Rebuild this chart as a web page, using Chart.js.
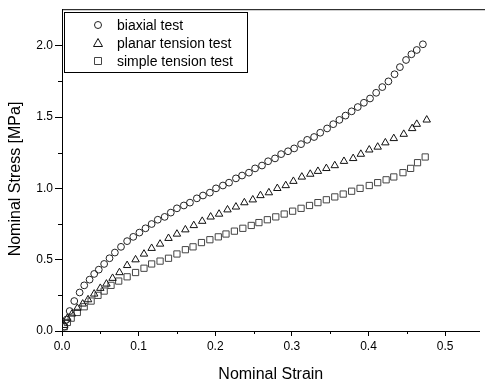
<!DOCTYPE html>
<html>
<head>
<meta charset="utf-8">
<script src="https://cdn.jsdelivr.net/npm/chart.js@4.4.1/dist/chart.umd.min.js"></script>
<style>
  body { margin: 0; background: #fff; }
  canvas { display: block; }
</style>
</head>
<body>
<canvas id="stressChart" width="485" height="384"></canvas>
<script>
// data
var biaxialStrain = [0.003,0.006,0.010,0.016,0.023,0.029,0.036,0.042,0.048,0.055,0.062,0.069,0.077,0.085,0.093,0.101,0.109,0.117,0.125,0.134,0.142,0.150,0.159,0.167,0.176,0.184,0.193,0.201,0.210,0.218,0.227,0.235,0.244,0.252,0.261,0.269,0.278,0.286,0.295,0.303,0.312,0.320,0.329,0.337,0.346,0.354,0.362,0.370,0.378,0.386,0.394,0.402,0.410,0.418,0.426,0.434,0.441,0.449,0.456,0.463,0.471];
var biaxialStress = [0.03,0.08,0.14,0.21,0.27,0.32,0.36,0.40,0.43,0.47,0.51,0.55,0.59,0.63,0.66,0.69,0.72,0.75,0.78,0.80,0.83,0.86,0.88,0.90,0.93,0.95,0.97,1.00,1.02,1.04,1.07,1.09,1.11,1.14,1.16,1.19,1.21,1.24,1.26,1.28,1.31,1.34,1.36,1.39,1.42,1.45,1.48,1.51,1.54,1.57,1.60,1.63,1.67,1.71,1.75,1.80,1.85,1.90,1.94,1.97,2.01];

var planarStrain = [0.003,0.007,0.013,0.020,0.027,0.034,0.042,0.050,0.058,0.066,0.075,0.085,0.096,0.107,0.117,0.128,0.139,0.150,0.161,0.172,0.183,0.194,0.205,0.216,0.227,0.238,0.249,0.259,0.270,0.281,0.292,0.302,0.313,0.324,0.334,0.345,0.356,0.368,0.380,0.390,0.401,0.412,0.422,0.433,0.446,0.457,0.463,0.476];
var planarStress = [0.04,0.09,0.12,0.16,0.19,0.22,0.26,0.30,0.33,0.37,0.41,0.46,0.50,0.54,0.58,0.61,0.65,0.68,0.71,0.74,0.77,0.80,0.82,0.85,0.87,0.90,0.92,0.95,0.97,1.00,1.02,1.05,1.08,1.10,1.12,1.14,1.16,1.19,1.21,1.24,1.27,1.29,1.32,1.35,1.38,1.42,1.45,1.48];

var simpleStrain = [0.003,0.007,0.012,0.020,0.029,0.038,0.047,0.055,0.064,0.074,0.085,0.096,0.107,0.117,0.128,0.139,0.150,0.161,0.171,0.182,0.193,0.204,0.214,0.225,0.236,0.247,0.257,0.268,0.279,0.290,0.301,0.312,0.323,0.334,0.345,0.356,0.367,0.378,0.389,0.401,0.412,0.423,0.433,0.445,0.455,0.464,0.474];
var simpleStress = [0.03,0.06,0.09,0.13,0.17,0.21,0.25,0.28,0.32,0.35,0.38,0.41,0.44,0.47,0.49,0.51,0.54,0.57,0.59,0.62,0.64,0.66,0.68,0.70,0.72,0.74,0.76,0.78,0.80,0.82,0.84,0.86,0.88,0.90,0.92,0.94,0.96,0.98,1.00,1.02,1.04,1.06,1.08,1.11,1.14,1.18,1.22];

var seriesNames = ["biaxial test", "planar tension test", "simple tension test"];

var xTicks = [0, 0.1, 0.2, 0.3, 0.4, 0.5];
var xMinorTicks = [0.05, 0.15, 0.25, 0.35, 0.45];
var yTicks = [0, 0.5, 1.0, 1.5, 2.0];
var yMinorTicks = [0.25, 0.75, 1.25, 1.75];

function pairs(xs, ys) {
  return xs.map(function (x, i) { return {x: x, y: ys[i]}; });
}

var FONT = 'Arial, "Liberation Sans", sans-serif';

// minor ticks, top frame line and the boxed legend inside the plot
var extras = {
  id: "extras",
  afterDraw: function (chart) {
    var ctx = chart.ctx;
    var a = chart.chartArea;
    var xs = chart.scales.x, ys = chart.scales.y;
    ctx.save();
    ctx.strokeStyle = "#000";
    ctx.lineWidth = 1;
    ctx.beginPath();
    xMinorTicks.forEach(function (v) {
      var px = Math.round(xs.getPixelForValue(v)) + 0.5;
      ctx.moveTo(px, a.bottom); ctx.lineTo(px, a.bottom + 3);
    });
    yMinorTicks.forEach(function (v) {
      var py = Math.round(ys.getPixelForValue(v)) + 0.5;
      ctx.moveTo(a.left, py); ctx.lineTo(a.left - 4, py);
    });
    ctx.moveTo(a.left, a.top + 0.5); ctx.lineTo(chart.width, a.top + 0.5);
    ctx.stroke();

    // legend
    var bx = 64.5, by = 12.5, bw = 183, bh = 60;
    ctx.fillStyle = "#fff";
    ctx.fillRect(bx, by, bw, bh);
    ctx.strokeRect(bx, by, bw, bh);
    ctx.font = "14px " + FONT;
    ctx.textBaseline = "middle";
    chart.data.datasets.forEach(function (ds, i) {
      var cy = 25 + i * 18, cx = 98;
      ctx.strokeStyle = ds.borderColor;
      ctx.beginPath();
      if (ds.pointStyle === "circle") {
        ctx.arc(cx, cy, 3.5, 0, Math.PI * 2);
      } else if (ds.pointStyle === "triangle") {
        ctx.moveTo(cx, cy - 4.5); ctx.lineTo(cx + 4.5, cy + 3.5); ctx.lineTo(cx - 4.5, cy + 3.5); ctx.closePath();
      } else {
        ctx.rect(cx - 3.5, cy - 3.5, 7, 7);
      }
      ctx.stroke();
      ctx.fillStyle = "#000";
      ctx.fillText(ds.label, 117, cy + 1);
    });
    ctx.restore();
  }
};

new Chart("stressChart", {
  type: "scatter",
  data: {
    datasets: [{
      label: seriesNames[0],
      data: pairs(biaxialStrain, biaxialStress),
      pointStyle: "circle",
      pointRadius: 3.4,
      borderColor: "#222",
      backgroundColor: "rgba(0,0,0,0)",
      borderWidth: 1
    }, {
      label: seriesNames[1],
      data: pairs(planarStrain, planarStress),
      pointStyle: "triangle",
      pointRadius: 4.3,
      borderColor: "#111",
      backgroundColor: "rgba(0,0,0,0)",
      borderWidth: 1
    }, {
      label: seriesNames[2],
      data: pairs(simpleStrain, simpleStress),
      pointStyle: "rect",
      pointRadius: 4.4,
      borderColor: "#444",
      backgroundColor: "rgba(0,0,0,0)",
      borderWidth: 1
    }]
  },
  plugins: [extras],
  options: {
    responsive: false,
    animation: false,
    layout: {padding: {left: 0, top: 5, right: 0, bottom: 0}},
    plugins: {
      legend: {display: false},
      tooltip: {enabled: false}
    },
    scales: {
      x: {
        type: "linear",
        min: 0,
        max: 0.545,
        afterBuildTicks: function (s) { s.ticks = xTicks.map(function (v) { return {value: v}; }); },
        afterFit: function (s) { s.height = 53; },
        ticks: {
          color: "#000",
          font: {family: FONT, size: 12},
          padding: 3,
          maxRotation: 0,
          callback: function (v) { return Number(v).toFixed(1); }
        },
        grid: {drawOnChartArea: false, drawTicks: true, tickLength: 5, tickColor: "#000"},
        border: {color: "#000", width: 1},
        title: {display: true, text: "Nominal Strain", color: "#000", font: {family: FONT, size: 16}, padding: {top: 0, bottom: 0}}
      },
      y: {
        type: "linear",
        min: 0,
        max: 2.256,
        afterBuildTicks: function (s) { s.ticks = yTicks.map(function (v) { return {value: v}; }); },
        afterFit: function (s) { s.width = 62; },
        ticks: {
          color: "#000",
          font: {family: FONT, size: 12},
          padding: 2,
          callback: function (v) { return Number(v).toFixed(1); }
        },
        grid: {drawOnChartArea: false, drawTicks: true, tickLength: 7, tickColor: "#000"},
        border: {color: "#000", width: 1},
        title: {display: true, text: "Nominal Stress [MPa]    ", color: "#000", font: {family: FONT, size: 16}, padding: {top: 6, bottom: 0}}
      }
    }
  }
});
</script>
</body>
</html>
